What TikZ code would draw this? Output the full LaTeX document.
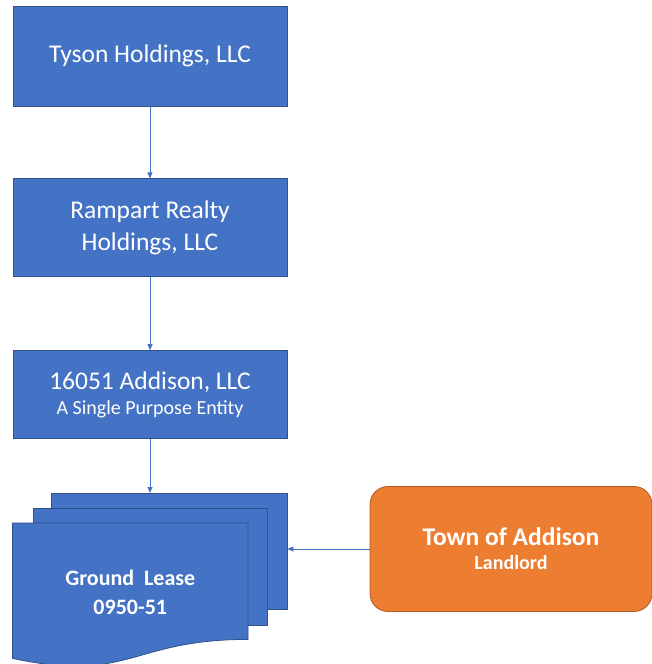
\documentclass[tikz,border=0pt]{standalone}
\usepackage{fontspec}
\setmainfont{Carlito}
\usetikzlibrary{positioning,calc,arrows.meta}

\definecolor{boxblue}{HTML}{4472C4}
\definecolor{blueedge}{HTML}{2F528F}
\definecolor{boxorange}{HTML}{ED7D31}
\definecolor{orangeedge}{HTML}{AE5A21}

\begin{document}
\begin{tikzpicture}[
	entity/.style={rectangle, draw=blueedge, fill=boxblue, text=white, line width=0.8pt, minimum width=274pt, align=center, font=\fontsize{25.5}{32}\selectfont},
	sheet/.style={rectangle, draw=blueedge, fill=boxblue, line width=0.8pt, minimum width=236pt, minimum height=116pt},
	link/.style={draw=boxblue, line width=0.8pt, -{Triangle[length=6pt,width=5pt]}}
	]
	\useasboundingbox (0,0) rectangle (652pt,-664pt);

	\node[entity, minimum height=100pt] (tyson) at (150pt,-56pt) {Tyson Holdings, LLC};
	\node[entity, minimum height=98pt, below=72pt of tyson] (rampart) {Rampart Realty\\Holdings, LLC};
	\node[entity, minimum height=88pt, below=73pt of rampart] (addison) {16051 Addison, LLC\\[-7pt]{\fontsize{20}{22}\selectfont A Single Purpose Entity}};

	% stacked lease pages
	\node[sheet, below left=54pt and 0pt of addison.south east] (sheetc) {};
	\node[sheet, anchor=north west, minimum width=234pt, minimum height=117pt] (sheetb) at ($(sheetc.north west)+(-18pt,-15pt)$) {};
	\node[anchor=north west, minimum width=235pt, minimum height=116pt, inner sep=0pt] (sheeta) at ($(sheetb.north west)+(-20pt,-15pt)$) {};
	\filldraw[draw=blueedge, fill=boxblue, line width=0.8pt] (sheeta.north west) -- (sheeta.north east) -- (sheeta.south east)
		.. controls (sheeta.south) and ($(sheeta.south)+(0,-44pt)$) .. ($(sheeta.south west)+(0,-19pt)$) -- cycle;
	\node[text=white, align=center, font=\bfseries\fontsize{22}{29}\selectfont] (lease) at ($(sheeta.center)+(0,-11pt)$) {Ground\ \ Lease\\0950-51};

	\node[rectangle, rounded corners=18pt, draw=orangeedge, fill=boxorange, line width=0.8pt, minimum width=282pt, minimum height=125pt, text=white, align=center, font=\bfseries\fontsize{25.5}{28}\selectfont] (landlord) at (511pt,-549pt) {Town of Addison\\[-4pt]{\fontsize{20}{22}\selectfont Landlord}};

	\draw[link] (tyson) -- (rampart);
	\draw[link] (rampart) -- (addison);
	\draw[link] (addison.south) -- (addison.south |- sheetc.north);
	\draw[link] (landlord.west) -- (landlord.west -| sheetc.east);
\end{tikzpicture}
\end{document}
